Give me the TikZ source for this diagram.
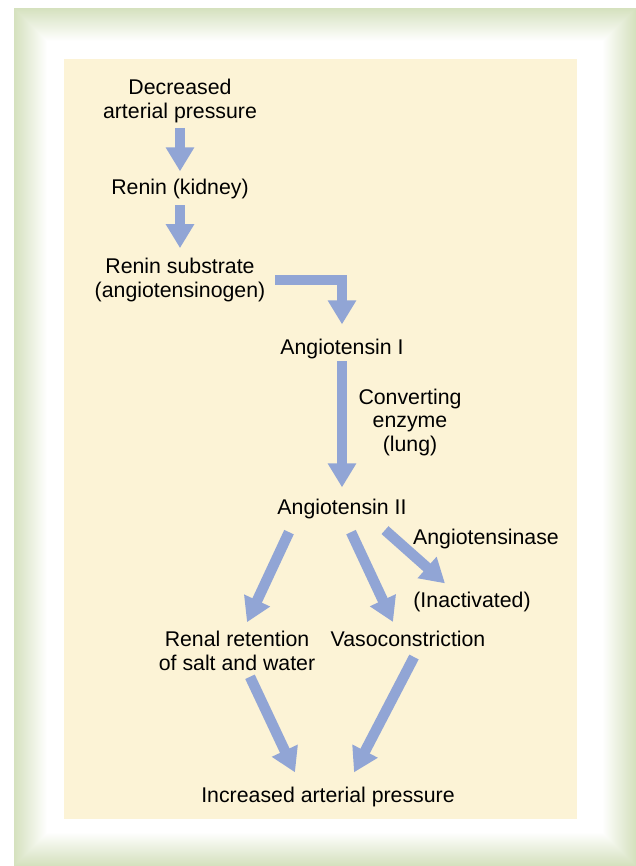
\documentclass[tikz,border=0pt]{standalone}
\usepackage{fontspec}
\setmainfont{Liberation Sans}
\usepackage{tikz}
\usetikzlibrary{
  arrows.meta,
  positioning,
  calc
}
\usepackage{xcolor}
\definecolor{framegreen}{RGB}{213,225,190}
\definecolor{panelcream}{RGB}{252,243,214}
\definecolor{flowblue}{RGB}{145,165,213}

\begin{document}
\begin{tikzpicture}[
  x=1pt, y=-1pt,
  lbl/.style={inner sep=0pt, align=center, font=\fontsize{21.3}{23.5}\selectfont},
  flow/.style={-{Triangle[length=24pt, width=27pt]}, line width=10.5pt, flowblue, line join=miter}
]
  \useasboundingbox (0,0) rectangle (636,866);

  % Frame
  \foreach \i in {0,...,33} {
    \pgfmathsetmacro{\pct}{100*(1-\i/33)}
    \fill[framegreen!\pct!white] (14+\i,8+\i) rectangle (636-\i,866-\i);
  }
  \fill[panelcream] (64,59) rectangle (577,819);

  % Top chain
  \node[lbl] (dec) at (180,101) {Decreased\\arterial pressure};
  \node[lbl] (renin) at (180,189) {Renin (kidney)};
  \node[lbl] (sub) at (180,280) {Renin substrate\\(angiotensinogen)};

  % Angiotensins
  \node[lbl] (ang1) at (342,349) {Angiotensin I};
  \node[lbl] (conv) at (410,422) {Converting\\enzyme\\(lung)};
  \node[lbl] (ang2) at (342,509) {Angiotensin II};
  \node[lbl] (tase) at (486,539) {Angiotensinase};
  \node[lbl] (inact) at (472,602) {(Inactivated)};

  % Effects
  \node[lbl] (renal) at (237,651) {Renal retention\\of salt and water};
  \node[lbl] (vaso) at (408,639) {Vasoconstriction};
  \node[lbl] (inc) at (328,797) {Increased arterial pressure};

  % Arrows
  \draw[flow] ([yshift=-5pt]dec.south) -- ([yshift=7.5pt]renin.north);
  \draw[flow] ([yshift=-6pt]renin.south) -- ([yshift=10pt]sub.north);
  \draw[flow] ([xshift=10pt]sub.east) -| ([yshift=14.5pt]ang1.north);
  \draw[flow] ([yshift=-2pt]ang1.south) -- ([yshift=11.5pt]ang2.north);
  \draw[flow] ([xshift=-53pt,yshift=-13pt]ang2.south) -- ([xshift=10pt,yshift=9pt]renal.north);
  \draw[flow] ([xshift=9pt,yshift=-13pt]ang2.south) -- ([xshift=-15pt,yshift=9pt]vaso.north);
  \draw[flow] ([xshift=43pt,yshift=-11pt]ang2.south) -- ([xshift=-27pt,yshift=8.5pt]inact.north);
  \draw[flow] ([xshift=13pt,yshift=-6pt]renal.south) -- ([xshift=-33pt,yshift=14.5pt]inc.north);
  \draw[flow] ([xshift=6pt,yshift=-10pt]vaso.south) -- ([xshift=26pt,yshift=14.5pt]inc.north);
\end{tikzpicture}
\end{document}
